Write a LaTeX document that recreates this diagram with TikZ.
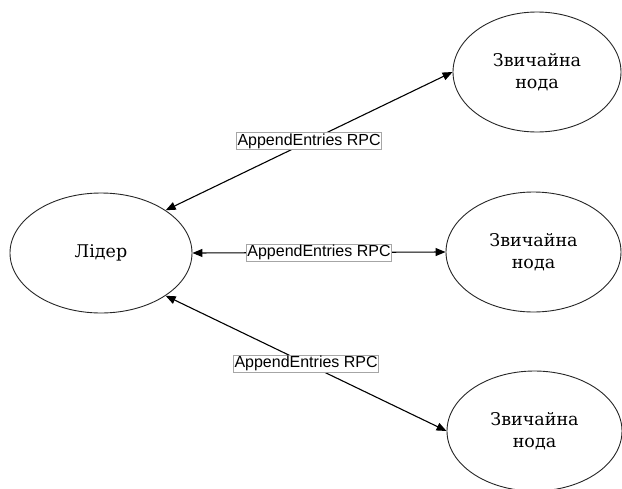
\documentclass[tikz,border=0pt]{standalone}
\usepackage{fontspec}
\setmainfont{DejaVu Serif}
\newfontfamily\labelfont{Liberation Sans}
\usetikzlibrary{shapes.geometric,arrows.meta}
\begin{document}
\begin{tikzpicture}[x=1pt,y=-1pt,
  peer/.style={ellipse,draw=black!85,line width=0.9pt,minimum width=#1,minimum height=120pt,
    inner sep=0pt,align=center,font=\fontsize{17.5}{22}\selectfont},
  peer/.default=170pt,
  rpc/.style={line width=1.1pt,{Triangle[length=10pt,width=8pt]}-{Triangle[length=10pt,width=8pt]}},
  rpclabel/.style={fill=white,draw=black!35,line width=0.5pt,inner sep=1pt,
    font=\labelfont\fontsize{16}{18}\selectfont}]
\useasboundingbox (0,0) rectangle (622,488);

\node[peer=182pt] (leader) at (101,253) {Лідер};
\node[peer=168pt] (n1) at (537,72) {Звичайна\\нода};
\node[peer=175pt] (n2) at (533.5,252) {Звичайна\\нода};
\node[peer=175pt] (n3) at (534.5,431) {Звичайна\\нода};

\draw[rpc] (leader.north east) -- (n1.west) node[rpclabel,pos=0.5] {AppendEntries RPC};
\draw[rpc] (leader.east) -- (n2.west) node[rpclabel,pos=0.5] {AppendEntries RPC};
\draw[rpc] (leader.south east) -- (n3.west) node[rpclabel,pos=0.5] {AppendEntries RPC};
\end{tikzpicture}
\end{document}
